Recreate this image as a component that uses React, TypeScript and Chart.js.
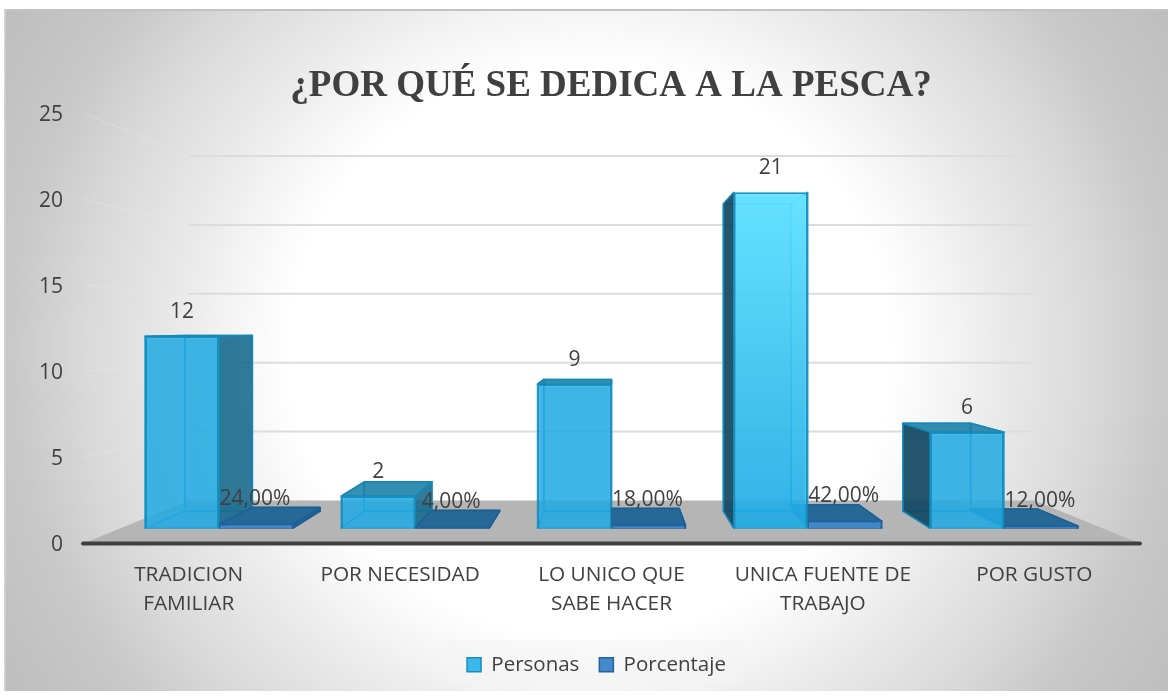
import React, { useEffect, useRef } from "react";
import { Chart, registerables } from "chart.js";

Chart.register(...registerables);

const titleText = "¿POR QUÉ SE DEDICA A LA PESCA?";
const categories = [["TRADICION", "FAMILIAR"], ["POR NECESIDAD"], ["LO UNICO QUE", "SABE HACER"], ["UNICA FUENTE DE", "TRABAJO"], ["POR GUSTO"]];
const personas = [12, 2, 9, 21, 6];
const porcentaje = [0.24, 0.04, 0.18, 0.42, 0.12];
const yTicks = [0, 25, 5];

const FONT = '"Open Sans", sans-serif';
const INK = "#404040";
const VP = { x: 611.5, y: 328 };
const WALL = 0.8;
const BAR_DEPTH = 0.915;

const project = (x: number, y: number, r: number): [number, number] => [VP.x + (x - VP.x) * r, VP.y + (y - VP.y) * r];

function poly(ctx: CanvasRenderingContext2D, pts: [number, number][], fill: string | null, stroke: string | null, lw = 1.5) {
  ctx.beginPath();
  pts.forEach((p, i) => (i ? ctx.lineTo(p[0], p[1]) : ctx.moveTo(p[0], p[1])));
  ctx.closePath();
  if (fill) { ctx.fillStyle = fill; ctx.fill(); }
  if (stroke) { ctx.strokeStyle = stroke; ctx.lineWidth = lw; ctx.lineJoin = "round"; ctx.stroke(); }
}

type Look = { faint: string; edge: string; top: string; right: string; left: string; line: string };
const lookPersonas: Look = {
  faint: "rgba(30,170,228,0.10)", edge: "rgba(20,150,205,0.9)",
  top: "rgba(22,125,165,0.86)", right: "rgba(22,105,140,0.88)", left: "rgba(20,72,98,0.92)", line: "#1588b8",
};
const lookPorcentaje: Look = {
  faint: "rgba(40,110,170,0.15)", edge: "rgba(30,90,150,0.9)",
  top: "rgba(38,104,150,0.96)", right: "rgba(30,90,140,0.9)", left: "rgba(30,80,120,0.9)", line: "#1c6098",
};

function drawBox(ctx: CanvasRenderingContext2D, x1: number, x2: number, yt: number, yb: number, look: Look) {
  const r = BAR_DEPTH;
  const bl = project(x1, yb, r), br = project(x2, yb, r), tl = project(x1, yt, r), tr = project(x2, yt, r);
  const fl: [number, number] = [x1, yb], fr: [number, number] = [x2, yb], ftl: [number, number] = [x1, yt], ftr: [number, number] = [x2, yt];
  poly(ctx, [tl, tr, br, bl], look.faint, look.edge, 1.5);
  poly(ctx, [fl, fr, br, bl], look.faint, look.edge, 1.5);
  if (x2 < VP.x) poly(ctx, [ftr, fr, br, tr], look.right, look.line, 1.5);
  else poly(ctx, [ftr, fr, br, tr], null, look.edge, 1.5);
  if (x1 > VP.x) poly(ctx, [ftl, fl, bl, tl], look.left, look.line, 1.5);
  else poly(ctx, [ftl, fl, bl, tl], null, look.edge, 1.5);
  if (yt > VP.y) poly(ctx, [ftl, ftr, tr, tl], look.top, look.line, 1.5);
}

const scenePlugin = {
  id: "scene",
  afterLayout(chart: any) {
    chart.titleBlock.left += 41;
    chart.titleBlock.right += 41;
    chart.legend.left += 26.5;
    chart.legend.right += 26.5;
    chart.scales.y.getLabelItems().forEach((it: any) => { it.options.translation[1] += 2; });
  },
  beforeDraw(chart: any) {
    const { ctx, width, height } = chart;
    ctx.save();
    ctx.fillStyle = "#fff";
    ctx.fillRect(0, 0, width, height);
    const bx = 4, by = 9, bw = 1164, bh = 682;
    ctx.save();
    ctx.beginPath();
    ctx.rect(bx, by, bw, bh);
    ctx.clip();
    ctx.translate(590, 350);
    ctx.scale(1, 0.95);
    const g = ctx.createRadialGradient(0, 0, 0, 0, 0, 700);
    g.addColorStop(0, "#ffffff");
    g.addColorStop(0.43, "#ffffff");
    g.addColorStop(0.53, "#f2f2f2");
    g.addColorStop(0.57, "#ececec");
    g.addColorStop(0.714, "#dadada");
    g.addColorStop(0.83, "#c8c8c8");
    g.addColorStop(1, "#bcbcbc");
    ctx.fillStyle = g;
    ctx.fillRect(-900, -900, 1800, 1800);
    ctx.restore();
    ctx.fillStyle = "#c2c2c2";
    ctx.fillRect(bx, by, bw, 2);
    ctx.fillStyle = "#d6d6d6";
    ctx.fillRect(bx, by, 1.5, bh);
    ctx.fillStyle = "rgba(244,244,244,0.5)";
    ctx.fillRect(447, 640, 295, 45);
    ctx.restore();
  },
  beforeDatasetsDraw(chart: any) {
    const { ctx, chartArea, scales } = chart;
    const { left, right, bottom } = chartArea;
    ctx.save();
    const fa = project(left, bottom, WALL), fb = project(right, bottom, WALL);
    poly(ctx, [[left, bottom], [right, bottom], fb, fa], "#b5b5b5", null);
    ctx.strokeStyle = "#404040";
    ctx.lineWidth = 4;
    ctx.lineCap = "round";
    ctx.beginPath(); ctx.moveTo(left, bottom); ctx.lineTo(right, bottom); ctx.stroke();
    ctx.lineCap = "butt";
    scales.y.ticks.forEach((t: any) => {
      if (t.value === 0) return;
      const py = scales.y.getPixelForValue(t.value);
      const a = project(left, py, WALL), b = project(right, py, WALL);
      ctx.lineWidth = 1.2;
      ctx.strokeStyle = "rgba(236,236,236,0.35)";
      ctx.beginPath(); ctx.moveTo(left, py); ctx.lineTo(a[0], a[1]); ctx.stroke();
      ctx.lineWidth = 2;
      ctx.strokeStyle = "#dcdcdc";
      ctx.beginPath(); ctx.moveTo(a[0], a[1]); ctx.lineTo(b[0], b[1]); ctx.stroke();
    });
    [1, 0].forEach((d) => {
      const look = d === 0 ? lookPersonas : lookPorcentaje;
      chart.getDatasetMeta(d).data.forEach((el: any) => {
        const hw = el.width / 2;
        drawBox(ctx, el.x - hw, el.x + hw, el.y, el.base, look);
      });
    });
    chart.getDatasetMeta(1).data.forEach((el: any) => {
      const hw = el.width / 2;
      const a = project(el.x - hw, el.y, BAR_DEPTH), b = project(el.x + hw, el.y, BAR_DEPTH);
      poly(ctx, [[el.x - hw, el.y], [el.x + hw, el.y], b, a], lookPorcentaje.top, lookPorcentaje.line, 1.5);
    });
    ctx.restore();
  },
  afterDatasetsDraw(chart: any) {
    const { ctx } = chart;
    ctx.save();
    ctx.font = `21px ${FONT}`;
    ctx.fillStyle = INK;
    ctx.textAlign = "center";
    ctx.textBaseline = "middle";
    chart.getDatasetMeta(0).data.forEach((el: any, i: number) => ctx.fillText(String(personas[i]), el.x, el.y - 24));
    chart.getDatasetMeta(1).data.forEach((el: any, i: number) =>
      ctx.fillText((porcentaje[i] * 100).toFixed(2).replace(".", ",") + "%", el.x - 1, el.y - 25));
    ctx.restore();
  },
};

export default function App() {
  const ref = useRef<HTMLCanvasElement>(null);
  useEffect(() => {
    const chart = new Chart(ref.current as HTMLCanvasElement, {
      type: "bar",
      plugins: [scenePlugin],
      data: {
        labels: categories as any,
        datasets: [
          {
            label: "Personas",
            data: personas.map((v, i) => ({ x: i, y: v })) as any,
            xAxisID: "xBar",
            yAxisID: "yBar",
            borderColor: "#1590c2",
            borderWidth: 2,
            backgroundColor: (c: any) => {
              if (c.dataIndex !== 3) return "rgba(34,170,226,0.86)";
              const s = c.chart.scales.yBar;
              const g = c.chart.ctx.createLinearGradient(0, s.getPixelForValue(21), 0, s.getPixelForValue(0));
              g.addColorStop(0, "rgba(95,225,255,0.95)");
              g.addColorStop(1, "rgba(30,170,228,0.9)");
              return g;
            },
            categoryPercentage: 0.754,
            barPercentage: 1,
          },
          {
            label: "Porcentaje",
            data: porcentaje.map((v, i) => ({ x: i, y: v })) as any,
            xAxisID: "xBar",
            yAxisID: "yBar",
            borderColor: "#1f66a8",
            borderWidth: 1.5,
            backgroundColor: "#3e87c8",
            categoryPercentage: 0.754,
            barPercentage: 1,
          },
        ],
      },
      options: {
        responsive: false,
        animation: false,
        layout: { padding: { left: 0, right: 33, top: 0, bottom: 11 } },
        plugins: {
          tooltip: { enabled: false },
          title: {
            display: true,
            text: titleText,
            color: INK,
            font: { family: '"Liberation Serif", serif', size: 37, weight: "bold" },
            padding: { top: 64, bottom: 4.6 },
          },
          legend: {
            position: "bottom",
            labels: {
              color: INK,
              font: { family: FONT, size: 20.5 },
              boxWidth: 14,
              boxHeight: 14,
              padding: 20,
              generateLabels: () => [
                { text: "Personas", fillStyle: "#3ab8ea", strokeStyle: "#1a8cbc", lineWidth: 1.5, fontColor: INK, datasetIndex: 0 },
                { text: "Porcentaje", fillStyle: "#4389cc", strokeStyle: "#22619c", lineWidth: 1.5, fontColor: INK, datasetIndex: 1 },
              ] as any,
            },
          },
        },
        scales: {
          x: {
            type: "category",
            position: "bottom",
            grid: { display: false, drawTicks: false },
            border: { display: false },
            ticks: { color: INK, font: { family: FONT, size: 20.8, lineHeight: 1.4 }, padding: 17, maxRotation: 0, autoSkip: false },
            afterFit: (s: any) => { s.height = 91; },
          },
          xBar: { type: "linear", display: false, min: -0.693, max: 4.693, offset: false, ticks: { includeBounds: false, stepSize: 1 } },
          y: {
            type: "linear",
            position: "left",
            min: yTicks[0],
            max: yTicks[1],
            grid: { display: false, drawTicks: false },
            border: { display: false },
            ticks: { stepSize: yTicks[2], color: INK, font: { family: FONT, size: 21 }, padding: 20 },
            afterFit: (s: any) => { s.width = 83; },
          },
          yBar: { type: "linear", display: false, min: -0.964, max: 25.96 },
        },
      } as any,
    });
    return () => chart.destroy();
  }, []);
  return (
    <div style={{ position: "fixed", left: 0, top: 0, width: 1173, height: 696, overflow: "hidden" }}>
      <canvas ref={ref} width={1173} height={696} style={{ display: "block" }} />
    </div>
  );
}
